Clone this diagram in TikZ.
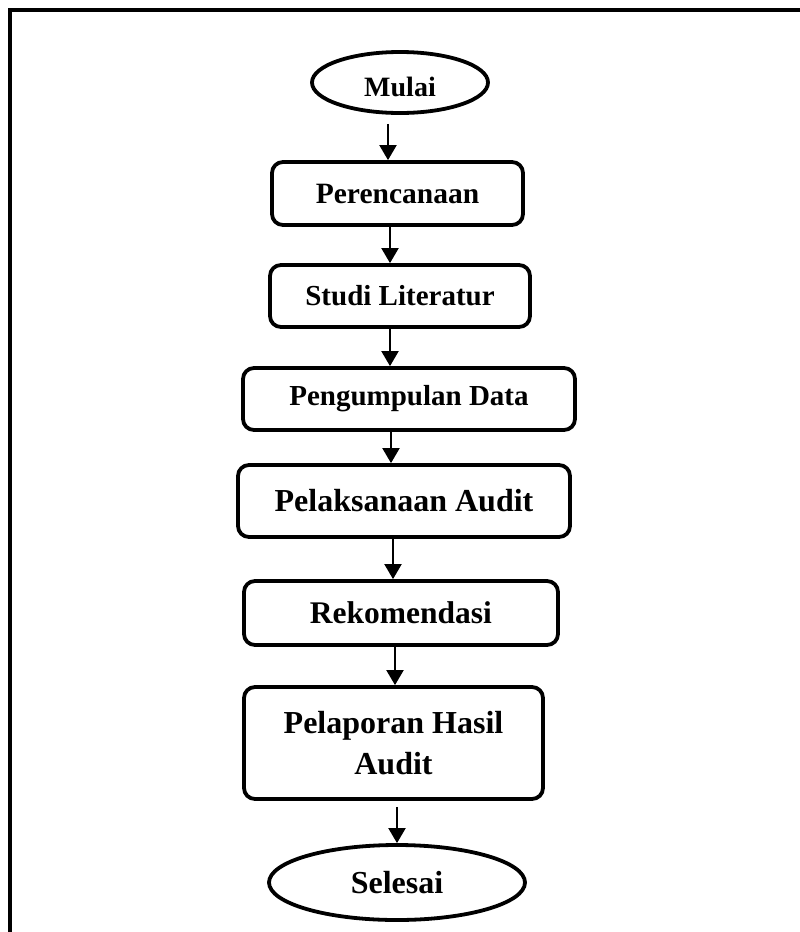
\documentclass[tikz,border=0pt]{standalone}
\usepackage{fontspec}
\setmainfont{Liberation Serif}
\usetikzlibrary{shapes.geometric,arrows.meta}
\begin{document}
\begin{tikzpicture}[x=1pt,y=-1pt,
  stepbox/.style={draw, line width=3.8pt, rounded corners=11pt, inner sep=0pt, align=center, font=\bfseries},
  term/.style={draw, ellipse, line width=3.8pt, inner sep=0pt, font=\bfseries},
  arr/.style={line width=2pt, -{Triangle[width=17pt,length=15pt]}},
  frame/.style={line width=3.2pt}]
\useasboundingbox (0,0) rectangle (800,932);
% frame
\coordinate (fa) at (10,932);
\coordinate (fb) at (10,10);
\coordinate (fc) at (800,10);
\draw[frame] (fa) -- (fb) -- (fc);
% nodes
\node[term, minimum width=176pt, minimum height=61pt, font=\fontsize{28}{32}\bfseries, text height=27pt, text depth=0pt] (mulai) at (400,82.5) {Mulai};
\node[stepbox, minimum width=251pt, minimum height=63pt, font=\fontsize{29.5}{33}\bfseries] (per) at (397.5,193.5) {Perencanaan};
\node[stepbox, minimum width=260pt, minimum height=62pt, font=\fontsize{29}{33}\bfseries] (stu) at (400,296) {Studi Literatur};
\node[stepbox, minimum width=332pt, minimum height=62pt, font=\fontsize{29}{33}\bfseries] (pen) at (409,399) {Pengumpulan Data};
\node[stepbox, minimum width=332pt, minimum height=72pt, font=\fontsize{32}{36}\bfseries] (pel) at (404,501) {Pelaksanaan Audit};
\node[stepbox, minimum width=314pt, minimum height=64pt, font=\fontsize{31.5}{36}\bfseries] (rek) at (401,613) {Rekomendasi};
\node[stepbox, minimum width=299pt, minimum height=112pt, font=\fontsize{32}{41}\bfseries] (lap) at (393.5,743) {Pelaporan Hasil\\Audit};
\node[term, minimum width=256pt, minimum height=75pt, font=\fontsize{32}{36}\bfseries] (sel) at (397,882.5) {Selesai};
% arrows
\draw[arr, shorten <=9pt] (mulai.south -| 388,0) -- (per.north -| 388,0);
\draw[arr] (per.south -| 390,0) -- (stu.north -| 390,0);
\draw[arr] (stu.south -| 390,0) -- (pen.north -| 390,0);
\draw[arr] (pen.south -| 391,0) -- (pel.north -| 391,0);
\draw[arr] (pel.south -| 393,0) -- (rek.north -| 393,0);
\draw[arr] (rek.south -| 395,0) -- (lap.north -| 395,0);
\draw[arr, shorten <=6pt] (lap.south -| 397,0) -- (sel.north -| 397,0);
\end{tikzpicture}
\end{document}
